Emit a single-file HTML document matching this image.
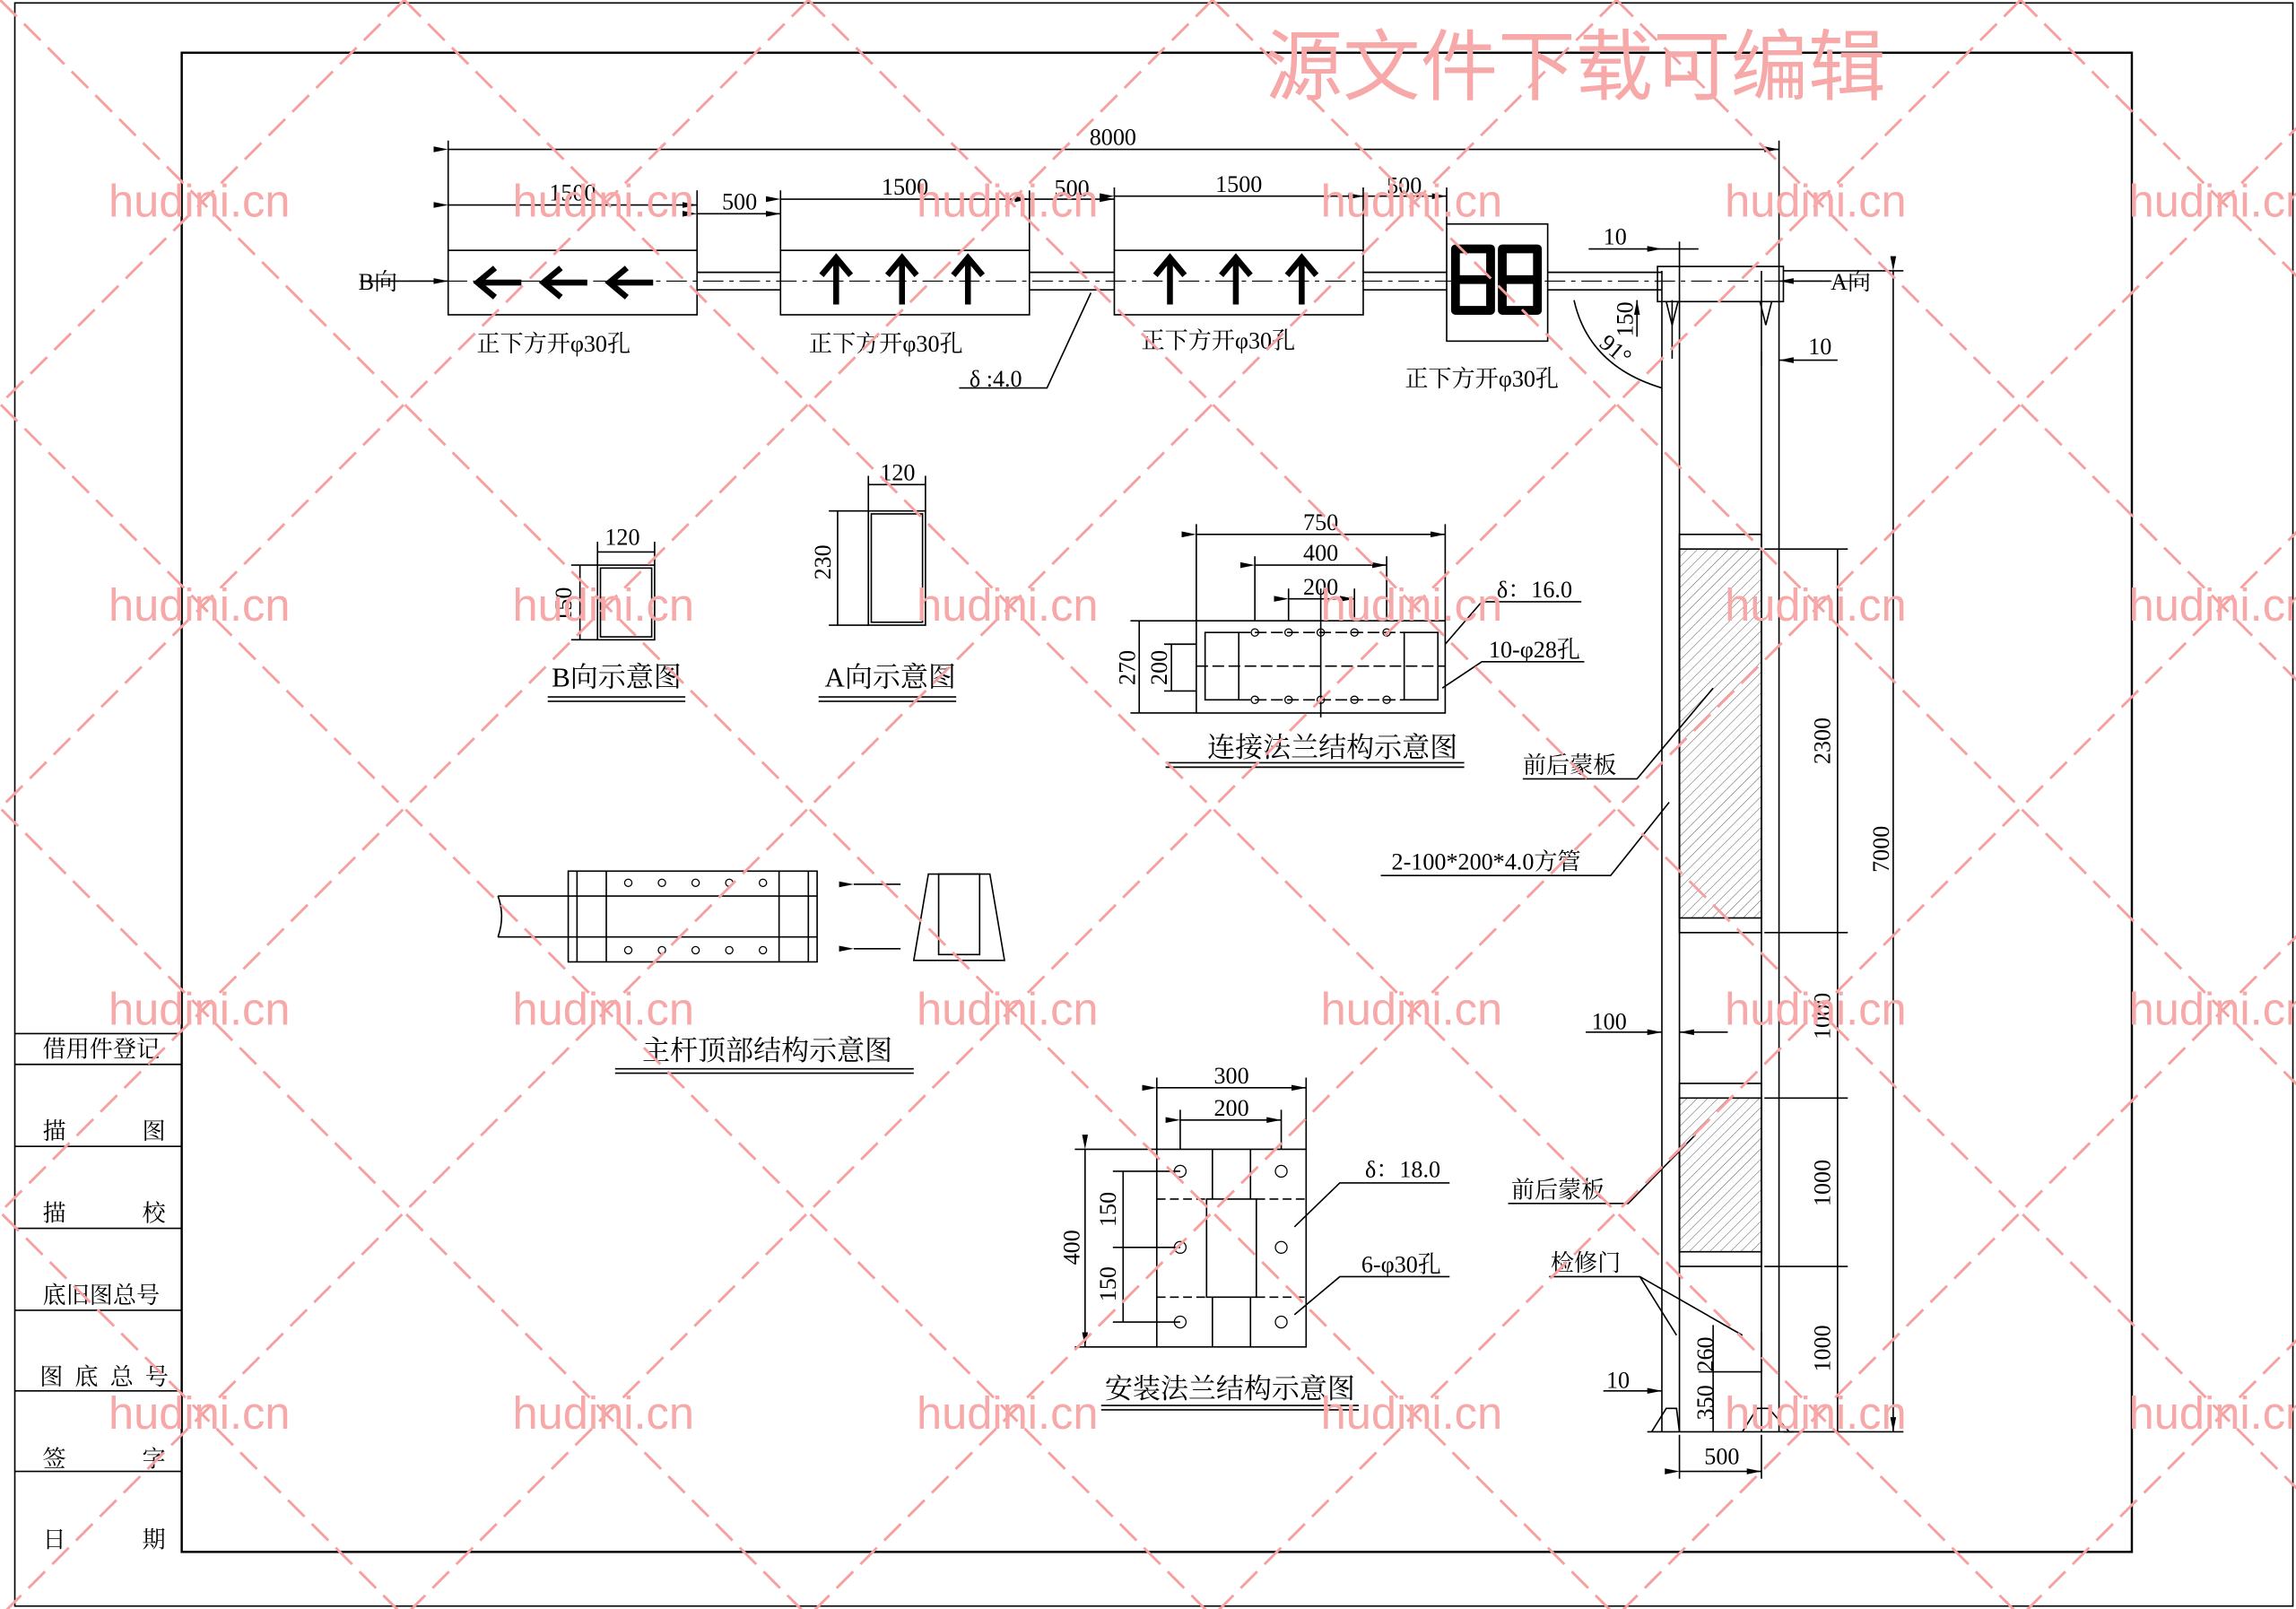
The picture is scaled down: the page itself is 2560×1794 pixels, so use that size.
<!DOCTYPE html>
<html><head><meta charset="utf-8"><style>html,body{margin:0;padding:0;background:#fff}svg{display:block}</style></head>
<body>
<svg width="2560" height="1794" viewBox="0 0 1568 1099" xmlns="http://www.w3.org/2000/svg" font-family="'Liberation Serif','Noto Serif CJK SC',serif">
<defs>
<marker id="ar" markerWidth="10" markerHeight="6" refX="10" refY="3" orient="auto" markerUnits="userSpaceOnUse"><path d="M0,1 L10,3 L0,5 Z" fill="#000"/></marker>
<pattern id="hat" width="5" height="5" patternUnits="userSpaceOnUse" patternTransform="rotate(45)"><line x1="0" y1="0" x2="0" y2="5" stroke="#555" stroke-width="0.6"/></pattern>
</defs>
<rect width="1568" height="1099" fill="#fff"/>
<g stroke="#000" fill="none" stroke-width="1">
<rect x="10" y="2" width="1556" height="1095"/>
<rect x="124" y="36" width="1332" height="1024" stroke-width="1.5"/>
<path d="M10,706H124M10,727H124M10,783H124M10,839H124M10,895H124M10,950H124M10,1005H124"/>
</g>
<g font-size="16" fill="#000">
<text x="29" y="722">借用件登记</text>
<text x="29" y="778">描</text><text x="97" y="778">图</text>
<text x="29" y="834">描</text><text x="97" y="834">校</text>
<text x="29" y="890">底旧图总号</text>
<text x="27" y="946" letter-spacing="8">图底总号</text>
<text x="29" y="1002">签</text><text x="97" y="1002">字</text>
<text x="29" y="1057">日</text><text x="97" y="1057">期</text>
</g>
<g stroke="#000" fill="none" stroke-width="1">
<path d="M476,186H533M703,186H761M931,186H988M1057,186H1135M476,198H533M703,198H761M931,198H988M1057,198H1135"/>
<path d="M280,192H1275" stroke-dasharray="14,4,3,4" stroke-width="0.7"/>
<rect x="306" y="171" width="170" height="44"/>
<rect x="533" y="171" width="170" height="44"/>
<rect x="761" y="171" width="170" height="44"/>
<rect x="988" y="153" width="69" height="80"/>
<path d="M246,192H306" marker-end="url(#ar)"/>
<path d="M1250,192H1215" marker-end="url(#ar)"/>
<path d="M306,102H1215" marker-start="url(#ar)" marker-end="url(#ar)"/>
<path d="M306,96V171M1215,96V185"/>
<path d="M306,140H476" marker-start="url(#ar)" marker-end="url(#ar)"/>
<path d="M476,146H533" marker-start="url(#ar)" marker-end="url(#ar)"/>
<path d="M533,136H703" marker-start="url(#ar)" marker-end="url(#ar)"/>
<path d="M703,136H761" marker-start="url(#ar)" marker-end="url(#ar)"/>
<path d="M761,134H931" marker-start="url(#ar)" marker-end="url(#ar)"/>
<path d="M931,134H988" marker-start="url(#ar)" marker-end="url(#ar)"/>
<path d="M476,130V171M533,130V171M703,130V171M761,128V171M931,128V171M988,128V153"/>
<path d="M1135,170H1160" /><path d="M1085,170H1135" marker-end="url(#ar)"/><path d="M1147,165V185"/>
<path d="M1255,246H1215" marker-end="url(#ar)"/><path d="M1203,240V250"/>
<path d="M1142,205V245" /><path d="M1118,230V205" marker-end="url(#ar)"/>
<path d="M1075,205 Q1085,250 1135,265"/>
<path d="M745,200 L715,265 H655"/>
</g>
<g font-size="16" fill="#000" text-anchor="middle">
<text x="760" y="99">8000</text>
<text x="391" y="137">1500</text><text x="505" y="143">500</text>
<text x="618" y="133">1500</text><text x="732" y="134">500</text>
<text x="846" y="131">1500</text><text x="959" y="132">500</text>
<text x="1103" y="167">10</text><text x="1243" y="242">10</text>
<text x="1115" y="218" transform="rotate(-90 1115 218)">150</text>
<text x="1100" y="243" transform="rotate(40 1100 243)">91°</text>
<text x="258" y="198">B向</text><text x="1264" y="198">A向</text>
<text x="378" y="240">正下方开φ30孔</text>
<text x="605" y="240">正下方开φ30孔</text>
<text x="832" y="238">正下方开φ30孔</text>
<text x="1012" y="264">正下方开φ30孔</text>
<text x="680" y="264">δ :4.0</text>
</g>
<g fill="none" stroke="#000" stroke-width="4">
<path d="M356,193H326M338,183L326,193L338,203M401,193H371M383,183L371,193L383,203M446,193H416M428,183L416,193L428,203"/>
<path d="M571,208V176M561,188L571,176L581,188M616,208V176M606,188L616,176L626,188M661,208V176M651,188L661,176L671,188"/>
<path d="M799,208V176M789,188L799,176L809,188M844,208V176M834,188L844,176L854,188M889,208V176M879,188L889,176L899,188"/>
</g>
<g fill="none" stroke="#000" stroke-width="6" stroke-linejoin="round">
<path d="M994,170H1018V212H994ZM994,191H1018"/>
<path d="M1026,170H1050V212H1026ZM1026,191H1050"/>
</g>
<g stroke="#000" fill="none" stroke-width="1">
<path d="M1135,185V978M1147,185V978M1203,185V978M1215,185V978"/>
<rect x="1132" y="182" width="86" height="24"/>
<path d="M1138,206L1142,222L1146,206M1202,206L1206,222L1210,206"/>
<rect x="1147" y="365" width="56" height="272"/>
<rect x="1147" y="375" width="56" height="252" fill="url(#hat)"/>
<rect x="1147" y="740" width="56" height="125"/>
<rect x="1147" y="750" width="56" height="105" fill="url(#hat)"/>
<path d="M1125,978H1225M1128,978L1138,962H1145L1147,978M1190,978L1200,962H1208L1222,978"/>
<path d="M1160,937H1203V910"/>
<path d="M1205,375H1262M1205,637H1262M1205,750H1262M1205,865H1262M1218,978H1300M1218,185H1300"/>
<path d="M1255,375V978"/>
<path d="M1293,185V978" marker-start="url(#ar)" marker-end="url(#ar)"/>
<path d="M1083,705H1135" marker-end="url(#ar)"/><path d="M1180,705H1147" marker-end="url(#ar)"/>
<path d="M1095,950H1135" marker-end="url(#ar)"/>
<path d="M1147,1005H1203" marker-start="url(#ar)" marker-end="url(#ar)"/><path d="M1147,980V1010M1203,980V1010"/>
<path d="M1170,905V978"/>
<path d="M1040,532H1118L1170,470"/>
<path d="M943,598H1100L1140,548"/>
<path d="M1030,822H1112L1158,775"/>
<path d="M1058,872H1120L1145,912M1120,872L1190,912"/>
</g>
<g font-size="16" fill="#000" text-anchor="middle">
<text x="1250" y="506" transform="rotate(-90 1250 506)">2300</text>
<text x="1250" y="694" transform="rotate(-90 1250 694)">1000</text>
<text x="1250" y="808" transform="rotate(-90 1250 808)">1000</text>
<text x="1250" y="921" transform="rotate(-90 1250 921)">1000</text>
<text x="1290" y="580" transform="rotate(-90 1290 580)">7000</text>
<text x="1099" y="703">100</text><text x="1105" y="948">10</text><text x="1176" y="1000">500</text>
<text x="1170" y="925" transform="rotate(-90 1170 925)">260</text>
<text x="1170" y="958" transform="rotate(-90 1170 958)">350</text>
<text x="1072" y="528">前后蒙板</text>
<text x="1015" y="594">2-100*200*4.0方管</text>
<text x="1064" y="818">前后蒙板</text>
<text x="1083" y="868">检修门</text>
</g>
<g stroke="#000" fill="none" stroke-width="1">
<rect x="408" y="386" width="39" height="51"/><rect x="410" y="388" width="35" height="47"/>
<path d="M408,377H447M408,370V386M447,370V386M396,386V437M390,386H408M390,437H408"/>
<path d="M374,476H468M374,479H468"/>
<rect x="593" y="349" width="39" height="78"/><rect x="595" y="351" width="35" height="74"/>
<path d="M593,331H632M593,325V349M632,325V349M572,349V427M566,349H593M566,427H593"/>
<path d="M559,476H653M559,479H653"/>
</g>
<g font-size="16" fill="#000" text-anchor="middle">
<text x="425" y="372">120</text><text x="613" y="328">120</text>
<text x="390" y="413" transform="rotate(-90 390 413)">150</text>
<text x="567" y="384" transform="rotate(-90 567 384)">230</text>
<text x="421" y="469" font-size="19">B向示意图</text>
<text x="608" y="469" font-size="19">A向示意图</text>
</g>
<g stroke="#000" fill="none" stroke-width="1">
<rect x="817" y="424" width="170" height="63"/>
<rect x="823" y="432" width="23" height="46"/><rect x="959" y="432" width="23" height="46"/>
<path d="M817,455H987M846,432H959M846,478H959" stroke-dasharray="8,3"/>
<path d="M817,365H987" marker-start="url(#ar)" marker-end="url(#ar)"/>
<path d="M857,386H947" marker-start="url(#ar)" marker-end="url(#ar)"/>
<path d="M880,409H925" marker-start="url(#ar)" marker-end="url(#ar)"/>
<path d="M817,358V424M987,358V424M857,380V424M947,380V424M880,402V424M925,402V424M902,402V490"/>
<path d="M778,424V487M772,424H817M772,487H817M800,440V472M795,440H817M795,472H817"/>
<path d="M987,440L1012,411H1080M985,470L1012,452H1082"/>
<path d="M796,521H1000M796,524H1000"/>
</g>
<g fill="none" stroke="#000" stroke-width="0.8">
<circle cx="857" cy="432" r="2.5"/><circle cx="880" cy="432" r="2.5"/><circle cx="902" cy="432" r="2.5"/><circle cx="925" cy="432" r="2.5"/><circle cx="947" cy="432" r="2.5"/>
<circle cx="857" cy="478" r="2.5"/><circle cx="880" cy="478" r="2.5"/><circle cx="902" cy="478" r="2.5"/><circle cx="925" cy="478" r="2.5"/><circle cx="947" cy="478" r="2.5"/>
</g>
<g font-size="16" fill="#000" text-anchor="middle">
<text x="902" y="362">750</text><text x="902" y="383">400</text><text x="902" y="406">200</text>
<text x="775" y="456" transform="rotate(-90 775 456)">270</text>
<text x="797" y="456" transform="rotate(-90 797 456)">200</text>
<text x="1048" y="408">δ：16.0</text><text x="1048" y="449">10-φ28孔</text>
<text x="910" y="517" font-size="19">连接法兰结构示意图</text>
</g>
<g stroke="#000" fill="none" stroke-width="1">
<path d="M340,612H388M340,640H388M340,612Q345,626 340,640"/>
<rect x="388" y="595" width="170" height="62"/>
<path d="M394,595V657M414,595V657M532,595V657M552,595V657M388,612H558M388,640H558"/>
<path d="M583,604H615" marker-start="url(#ar)"/><path d="M583,648H615" marker-start="url(#ar)"/>
<path d="M624,656H686L676,597H634Z"/><rect x="641" y="597" width="28" height="55"/>
<path d="M420,730H624M420,733H624"/>
</g>
<g fill="none" stroke="#000" stroke-width="0.8">
<circle cx="429" cy="603" r="2.5"/><circle cx="452" cy="603" r="2.5"/><circle cx="475" cy="603" r="2.5"/><circle cx="498" cy="603" r="2.5"/><circle cx="521" cy="603" r="2.5"/>
<circle cx="429" cy="649" r="2.5"/><circle cx="452" cy="649" r="2.5"/><circle cx="475" cy="649" r="2.5"/><circle cx="498" cy="649" r="2.5"/><circle cx="521" cy="649" r="2.5"/>
</g>
<text x="524" y="724" font-size="19" text-anchor="middle">主杆顶部结构示意图</text>
<g stroke="#000" fill="none" stroke-width="1">
<rect x="790" y="785" width="102" height="135"/>
<rect x="824" y="819" width="34" height="67"/>
<path d="M828,785V819M854,785V819M828,886V920M854,886V920"/>
<path d="M790,819H824M858,819H892M790,886H824M858,886H892" stroke-dasharray="6,3"/>
<path d="M790,743H892" marker-start="url(#ar)" marker-end="url(#ar)"/>
<path d="M806,765H875" marker-start="url(#ar)" marker-end="url(#ar)"/>
<path d="M790,736V785M892,736V785M806,758V785M875,758V785"/>
<path d="M741,785V920" marker-start="url(#ar)" marker-end="url(#ar)"/>
<path d="M734,785H790M734,920H790M760,800H806M760,852H806M760,903H806M767,800V903"/>
<path d="M884,838L915,808H990M884,898L915,872H990"/>
<path d="M752,960H928M752,963H928"/>
</g>
<g fill="none" stroke="#000" stroke-width="0.8">
<circle cx="806" cy="800" r="4"/><circle cx="875" cy="800" r="4"/><circle cx="806" cy="852" r="4"/><circle cx="875" cy="852" r="4"/><circle cx="806" cy="903" r="4"/><circle cx="875" cy="903" r="4"/>
</g>
<g font-size="16" fill="#000" text-anchor="middle">
<text x="841" y="740">300</text><text x="841" y="762">200</text>
<text x="737" y="852" transform="rotate(-90 737 852)">400</text>
<text x="762" y="826" transform="rotate(-90 762 826)">150</text>
<text x="762" y="877" transform="rotate(-90 762 877)">150</text>
<text x="958" y="804">δ：18.0</text><text x="957" y="869">6-φ30孔</text>
<text x="840" y="955" font-size="19">安装法兰结构示意图</text>
</g>
<g stroke="#f6a0a0" stroke-width="1.8" stroke-dasharray="16,7" fill="none">
<path d="M-1104,0L0,1104M-828,0L276,1104M-552,0L552,1104M-276,0L828,1104M0,0L1104,1104M276,0L1380,1104M552,0L1656,1104M828,0L1932,1104M1104,0L2208,1104M1380,0L2484,1104"/>
<path d="M276,0L-828,1104M552,0L-552,1104M828,0L-276,1104M1104,0L0,1104M1380,0L276,1104M1656,0L552,1104M1932,0L828,1104M2208,0L1104,1104M2484,0L1380,1104M2760,0L1656,1104"/>
</g>
<g font-family="'Liberation Sans',sans-serif" font-size="31" fill="#f7a8a8" text-anchor="middle">
<text x="136" y="148">hudini.cn</text><text x="412" y="148">hudini.cn</text><text x="688" y="148">hudini.cn</text><text x="964" y="148">hudini.cn</text><text x="1240" y="148">hudini.cn</text><text x="1516" y="148">hudini.cn</text>
<text x="136" y="424">hudini.cn</text><text x="412" y="424">hudini.cn</text><text x="688" y="424">hudini.cn</text><text x="964" y="424">hudini.cn</text><text x="1240" y="424">hudini.cn</text><text x="1516" y="424">hudini.cn</text>
<text x="136" y="700">hudini.cn</text><text x="412" y="700">hudini.cn</text><text x="688" y="700">hudini.cn</text><text x="964" y="700">hudini.cn</text><text x="1240" y="700">hudini.cn</text><text x="1516" y="700">hudini.cn</text>
<text x="136" y="976">hudini.cn</text><text x="412" y="976">hudini.cn</text><text x="688" y="976">hudini.cn</text><text x="964" y="976">hudini.cn</text><text x="1240" y="976">hudini.cn</text><text x="1516" y="976">hudini.cn</text>
</g>
<text x="1076" y="64" font-family="'Liberation Sans','Noto Sans CJK SC',sans-serif" font-size="53" fill="#f7a8a8" text-anchor="middle">源文件下载可编辑</text>
</svg>
</body></html>
